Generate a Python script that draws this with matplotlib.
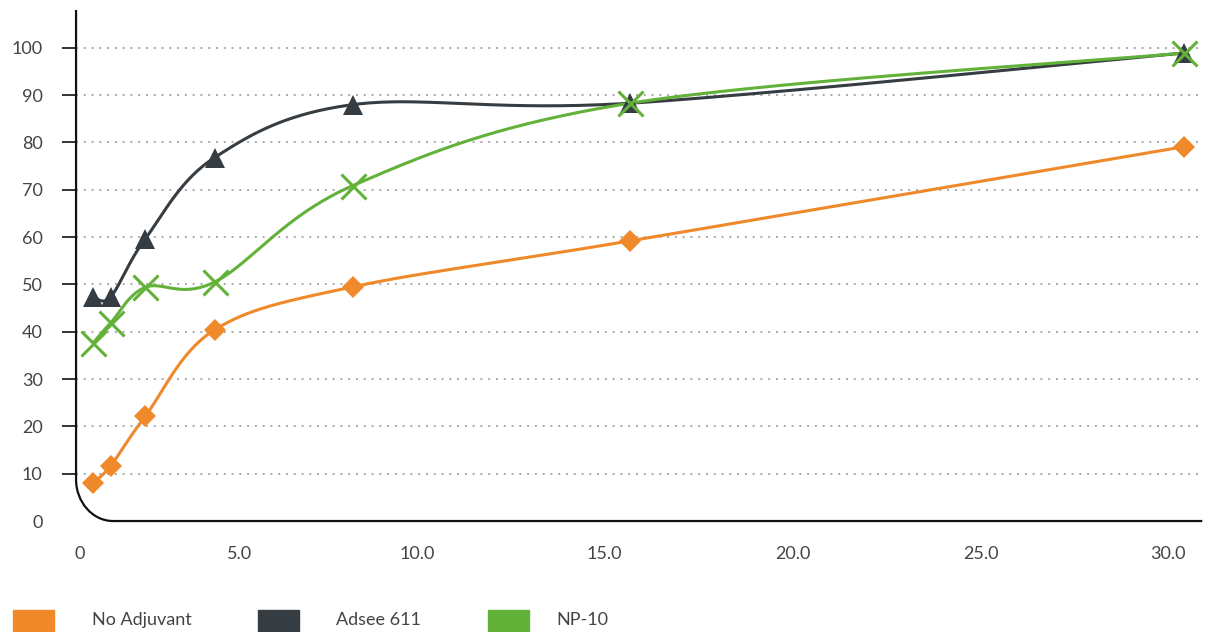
import matplotlib
matplotlib.use('Agg')
import matplotlib.pyplot as plt
from matplotlib.path import Path
from matplotlib.patches import PathPatch, Rectangle
import numpy as np

plt.rcParams['font.family'] = ['Lato', 'DejaVu Sans']

# data
time = [0.47, 0.94, 1.88, 3.75, 7.5, 15, 30]
no_adjuvant = [8.1, 11.7, 22.2, 40.4, 49.5, 59.2, 79.1]
adsee_611 = [47.4, 47.4, 59.7, 76.8, 88.0, 88.3, 98.9]
np_10 = [37.7, 41.9, 49.4, 50.5, 70.9, 88.3, 98.9]
series_names = ['No Adjuvant', 'Adsee 611', 'NP-10']
y_ticks = [0, 10, 20, 30, 40, 50, 60, 70, 80, 90, 100]
x_tick_labels = ['0', '5.0', '10.0', '15.0', '20.0', '25.0', '30.0']
# the labels in the original sit a bit left of their true value
x_tick_pos = [0.1, 4.42, 9.24, 14.31, 19.4, 24.5, 29.57]

colors = ['#f0892a', '#363d42', '#62b23a']
markers = [dict(marker='D', markersize=11.5, markeredgewidth=0),
           dict(marker='^', markersize=15, markeredgewidth=0),
           dict(marker='x', markersize=18, markeredgewidth=2.2)]
text_col = '#444444'

fig = plt.figure(figsize=(12.11, 6.32), dpi=100)
ax = fig.add_axes([0.0628, 0.1756, 0.9300, 0.8086])
ax.set_xlim(0, 30.5)
ax.set_ylim(0, 108)


def smooth(xs, ys, n=40):
    # catmull-rom style smoothing (like a spreadsheet "smoothed line"), done in display space
    pts = ax.transData.transform(np.column_stack([xs, ys]))
    ext = np.vstack([pts[0], pts, pts[-1]])
    t = np.linspace(0, 1, n)[:, None]
    out = []
    for i in range(len(pts) - 1):
        p0, p3 = ext[i + 1], ext[i + 2]
        c1 = p0 + (ext[i + 2] - ext[i]) / 6
        c2 = p3 - (ext[i + 3] - ext[i + 1]) / 6
        seg = (1 - t) ** 3 * p0 + 3 * (1 - t) ** 2 * t * c1 + 3 * (1 - t) * t ** 2 * c2 + t ** 3 * p3
        out.append(seg if i == 0 else seg[1:])
    out = ax.transData.inverted().transform(np.vstack(out))
    return out[:, 0], out[:, 1]


# gridlines
for yv in y_ticks[1:]:
    ax.axhline(yv, color='#a8a8a8', lw=1.4, ls=(0, (1, 3)), zorder=1)

order = [0, 2, 1]
all_series = [no_adjuvant, adsee_611, np_10]
for k in order:
    sx, sy = smooth(time, all_series[k])
    ax.plot(sx, sy, color=colors[k], lw=2.2, zorder=3 + k * 0.1, solid_capstyle='round')
for k in order:
    ax.plot(time, all_series[k], ls='none', color=colors[k], zorder=4 + k * 0.1, **markers[k])

# axes frame with the rounded lower-left corner
for s in ax.spines.values():
    s.set_visible(False)
ry, rx = 8.8, 1.0
kap = 0.55
verts = [(0, 108), (0, ry), (0, ry * (1 - kap)), (rx * (1 - kap), 0), (rx, 0), (30.5, 0)]
codes = [Path.MOVETO, Path.LINETO, Path.CURVE4, Path.CURVE4, Path.CURVE4, Path.LINETO]
ax.add_patch(PathPatch(Path(verts, codes), fill=False, edgecolor='#111111', lw=1.6,
                       clip_on=False, zorder=5))

ax.set_yticks(y_ticks)
ax.set_yticklabels([str(v) for v in y_ticks])
ax.tick_params(axis='y', length=10, width=1.2, color='#111111', pad=14,
               labelsize=13, labelcolor=text_col)
ax.yaxis.get_major_ticks()[0].tick1line.set_visible(False)
ax.set_xticks(x_tick_pos)
ax.set_xticklabels(x_tick_labels)
ax.tick_params(axis='x', length=0, pad=18, labelsize=13, labelcolor=text_col)

# legend along the bottom
W, H = 1211, 632
leg = [(13, 92), (258, 336), (488, 556)]
for k, (rx0, tx0) in enumerate(leg):
    fig.patches.append(Rectangle((rx0 / W, (H - 631) / H), 41 / W, 21 / H,
                                 transform=fig.transFigure, color=colors[k]))
    fig.text(tx0 / W, (H - 620) / H, series_names[k], fontsize=13, color=text_col,
             va='center', ha='left')

fig.savefig('out.png', dpi=100)
